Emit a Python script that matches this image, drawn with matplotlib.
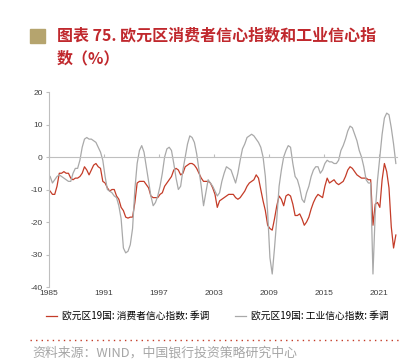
import numpy as np
import matplotlib
matplotlib.use('Agg')
import matplotlib.pyplot as plt
from matplotlib.lines import Line2D
from matplotlib.patches import Rectangle

plt.rcParams['font.family'] = ['Noto Sans CJK SC', 'DejaVu Sans']

# quarterly readings, 1985Q1 .. 2022Q4
consumer = [
    -10.5, -11.5, -11.5, -9,      # 1985
    -5, -5, -4.5, -5,             # 1986
    -5, -6.5, -7, -6.5,           # 1987
    -6.5, -6, -5, -3,             # 1988
    -4, -5.5, -4, -2.5,           # 1989
    -2, -3, -3.5, -7.5,           # 1990
    -8, -9.5, -10.5, -10,         # 1991
    -10, -12, -13, -15.5,         # 1992
    -16.5, -18.5, -18.8, -18.5,   # 1993
    -18.5, -14, -8, -7.5,         # 1994
    -7.5, -7.5, -8.5, -9.5,       # 1995
    -12, -12.5, -12.5, -12.5,     # 1996
    -11.5, -11, -9, -8,           # 1997
    -7, -6, -4, -3.5,             # 1998
    -4, -5.5, -5, -3,             # 1999
    -2.5, -2, -2, -2.5,           # 2000
    -3.5, -5, -6.5, -7.5,         # 2001
    -7.5, -7.5, -8, -9.5,         # 2002
    -11.5, -15.5, -13.5, -13,     # 2003
    -12.5, -12, -11.5, -11.5,     # 2004
    -11.5, -12.5, -13, -12.5,     # 2005
    -11.5, -10.5, -9, -8,         # 2006
    -7.5, -7, -5.5, -6.5,         # 2007
    -10, -13.5, -16.5, -21,       # 2008
    -22, -22.5, -19, -15,         # 2009
    -12, -13, -15, -12,           # 2010
    -11.5, -12, -14.5, -18,       # 2011
    -18, -17.5, -19, -21,         # 2012
    -20, -18.5, -16, -14,         # 2013
    -12.5, -11.5, -12, -12.5,     # 2014
    -9, -6.5, -8, -7.5,           # 2015
    -7, -8, -8.5, -8,             # 2016
    -7.5, -6, -4, -3,             # 2017
    -3.5, -4.5, -5.5, -6,         # 2018
    -6.5, -6.5, -6.5, -7,         # 2019
    -7, -21, -14.5, -14,          # 2020
    -15.5, -7, -2, -4.5,          # 2021
    -9.5, -21.5, -28, -24,        # 2022
]
industry = [
    -6, -8, -7, -6,               # 1985
    -5.5, -6, -6.5, -7,           # 1986
    -7.5, -7.5, -5, -3.5,         # 1987
    -3.5, -1, 3, 5.5,             # 1988
    6, 5.5, 5.5, 5,               # 1989
    4.5, 3, 1.5, -1,              # 1990
    -6, -10, -10.5, -11,          # 1991
    -12, -12.5, -15, -19,         # 1992
    -28, -29.5, -29, -27,         # 1993
    -22, -10, -2, 2,              # 1994
    3.5, 1.5, -3, -7.5,           # 1995
    -12, -15, -14, -12,           # 1996
    -9, -5, 0, 2.5,               # 1997
    3, 2, -2, -6.5,               # 1998
    -10, -9, -4, 0,               # 1999
    4, 6.5, 6, 4.5,               # 2000
    1, -4, -9, -15,               # 2001
    -11, -7, -8, -9,              # 2002
    -10.5, -12, -11, -7.5,        # 2003
    -5, -3, -3.5, -4,             # 2004
    -6, -8, -5, -1,               # 2005
    2.5, 4, 6, 6.5,               # 2006
    7, 6.5, 5.5, 4.5,             # 2007
    3, 0, -6, -17,                # 2008
    -31, -36, -28, -19,           # 2009
    -9, -4, 0, 2,                 # 2010
    3.5, 3, -2, -6,               # 2011
    -7, -9.5, -13, -14,           # 2012
    -11, -9, -6, -4,              # 2013
    -3, -3, -5, -4,               # 2014
    -2, -1, -1.5, -1.5,           # 2015
    -2, -2, -1, 2,                # 2016
    3.5, 5.5, 8, 9.5,             # 2017
    9, 7, 5, 2,                   # 2018
    0, -3, -7, -8,                # 2019
    -8, -36, -17, -7,             # 2020
    0, 7, 12, 13.5,               # 2021
    13, 9, 4, -2,                 # 2022
]
year_ticks = [1985, 1991, 1997, 2003, 2009, 2015, 2021]
y_ticks = [-40, -30, -20, -10, 0, 10, 20]
labels = ['欧元区19国: 消费者信心指数: 季调', '欧元区19国: 工业信心指数: 季调']

x = 1985 + np.arange(len(consumer)) * 0.25 + 0.125

red = '#C43C28'
gray = '#A9A9A9'

fig = plt.figure(figsize=(4.12, 3.6), dpi=100)
ax = fig.add_axes([49 / 412, 1 - 287 / 360, 348 / 412, 195 / 360])

ax.plot(x, consumer, color=red, lw=0.9, label=labels[0])
ax.plot(x, industry, color=gray, lw=0.9, label=labels[1])

ax.set_xlim(1985, 2023)
ax.set_ylim(-40, 20)
ax.set_yticks(y_ticks)
ax.set_yticklabels([str(v) for v in y_ticks], fontsize=6, color='#404040',
                   family='Liberation Sans')

for s in ['top', 'right']:
    ax.spines[s].set_visible(False)
ax.spines['left'].set_color('#BFBFBF')
ax.spines['left'].set_linewidth(0.8)
ax.spines['bottom'].set_position(('data', 0))
ax.spines['bottom'].set_color('#BFBFBF')
ax.spines['bottom'].set_linewidth(0.8)
ax.set_xticks(year_ticks)
ax.tick_params(axis='x', labelbottom=False, length=2, direction='in', color='#BFBFBF')
ax.tick_params(axis='y', length=2.5, color='#BFBFBF', pad=2)

sec = ax.secondary_xaxis(0)
sec.set_xticks(year_ticks)
sec.set_xticklabels([str(v) for v in year_ticks], fontsize=6, color='#404040',
                    family='Liberation Sans')
sec.tick_params(length=0, pad=2)
sec.spines['bottom'].set_visible(False)

# title block
fig.patches.append(Rectangle((30 / 412, 1 - 43 / 360), 15 / 412, 14 / 360,
                             transform=fig.transFigure, color='#B5A46E'))
fig.text(57 / 412, 1 - 35 / 360, '图表 75. 欧元区消费者信心指数和工业信心指',
         fontsize=11.5, fontweight='bold', color='#C0282D', va='center')
fig.text(57 / 412, 1 - 58 / 360, '数（%）',
         fontsize=11.5, fontweight='bold', color='#C0282D', va='center')

fig.legend(loc='center left', bbox_to_anchor=(46 / 412, 1 - 316 / 360), ncol=2,
           frameon=False, fontsize=7, handlelength=1.1, handletextpad=0.5,
           columnspacing=2.7, borderaxespad=0, borderpad=0)

fig.lines.append(Line2D([30 / 412, 402 / 412], [1 - 340 / 360] * 2,
                        transform=fig.transFigure, color=red, lw=1.0,
                        linestyle=(0, (1, 3))))
fig.text(32 / 412, 1 - 353 / 360, '资料来源：WIND，中国银行投资策略研究中心',
         fontsize=9.3, color='#A6A6A6', va='center')

fig.savefig('out.png', dpi=100)
